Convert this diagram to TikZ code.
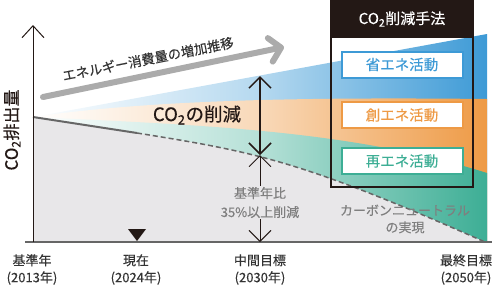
\documentclass[tikz,border=0pt]{standalone}
\usepackage{fontspec}
\setmainfont{Noto Sans CJK JP}[FakeBold=0.3]
\usetikzlibrary{arrows.meta}

\definecolor{bandblue}{HTML}{3D9AD6}
\definecolor{bandorange}{HTML}{EE9A45}
\definecolor{bandteal}{HTML}{3DAE95}
\definecolor{areagray}{HTML}{E8E7E9}
\definecolor{inkblack}{HTML}{231815}
\definecolor{txtgray}{HTML}{7F7F7F}
\definecolor{txtdark}{HTML}{333333}
\definecolor{linegray}{HTML}{666666}
\definecolor{arrowgray}{HTML}{ABABAB}

\newcommand{\COtwo}{CO\textsubscript{2}}
\newcommand{\px}[1]{\fontsize{#1}{#1}\selectfont}

\tikzset{
  band/.style={left color=white, right color=#1, middle color=#1!38},
  method/.style={draw=#1, line width=2pt, fill=white, text=#1,
    minimum width=121pt, minimum height=26pt, inner sep=0pt, font=\px{14.5}},
  ticklabel/.style={text=txtdark, align=center, font=\fontsize{13}{17}\selectfont},
  mybarb/.tip={Straight Barb[length=11pt, width=22pt]},
}

\begin{document}
\begin{tikzpicture}[x=1pt, y=-1pt]

    \useasboundingbox (0,0) rectangle (500,293);

    \coordinate (O)    at (33, 242);   % origin
    \coordinate (Ytop) at (33, 25);
    \coordinate (Xl)   at (25, 242);
    \coordinate (Xr)   at (492, 242);
    \coordinate (S)    at (33, 117);   % base year
    \coordinate (N)    at (137, 133);  % now
    \coordinate (M)    at (260, 155);  % 2030 on curve
    \coordinate (Mtop) at (260, 76);
    \coordinate (Mbot) at (260, 242);
    \coordinate (E)    at (485, 242);  % 2050

    % 1. bands of reduction (fading from the left)
    \shade[band=bandblue]   (S) -- (487,34) -- (487,242) -- (O) -- cycle;
    \shade[band=bandorange] (S) .. controls (150,100) and (300,97) .. (487,99)
        -- (487,242) -- (O) -- cycle;
    \shade[band=bandteal]   (S) .. controls (200,125) and (350,130) .. (487,173)
        -- (487,242) -- (O) -- cycle;

    % 2. emission area
    \fill[areagray] (S) -- (N) .. controls (255,152) and (300,160) .. (E) -- (O) -- cycle;
    \draw[linegray, line width=2pt] (S) -- (N);
    \draw[linegray, line width=1.5pt, dash pattern=on 5pt off 3pt]
        (N) .. controls (255,152) and (300,160) .. (E);

    % 3. axes
    \draw[linegray, line width=1.5pt] (Xl) -- (Xr);
    \draw[inkblack, line width=1pt, -{Straight Barb[length=12pt, width=22pt]}] (O) -- (Ytop);
    \node[rotate=90, text=inkblack, font=\px{17}] (ylab) at (12,130) {\COtwo 排出量};

    % 4. energy consumption arrow
    \coordinate (Ga) at (43, 97);
    \coordinate (Gb) at (284, 47);
    \draw[arrowgray, line width=6pt, line cap=round,
        -{Straight Barb[length=11pt, width=24pt, round]}] (Ga) -- (Gb);
    \node[rotate=11.2, text=txtdark, font=\px{13.4}] (glab) at (148,59)
        {エネルギー消費量の増加推移};

    % 5. reduction arrows
    \node[text=inkblack, font=\px{18.5}] (red) at (197,115) {\COtwo の削減};
    \draw[inkblack, line width=1.5pt, mybarb-mybarb] (Mtop) -- (M);
    \draw[inkblack, line width=0.9pt, mybarb-mybarb] (M) -- (Mbot);
    \node[fill=areagray, text=txtgray, align=center, inner sep=1pt,
        font=\fontsize{13}{19}\selectfont] (pct) at (260,202.5)
        {基準年比\\35\%以上削減};
    \node[text=txtgray, align=center, font=\fontsize{13}{17}\selectfont] (cn)
        at (405,219) {カーボンニュートラル\\の実現};

    % 6. methods box
    \fill[inkblack] (331,1) rectangle (473,38);
    \draw[inkblack, line width=2.2pt] (331,1) rectangle (473,187);
    \node[text=white, font=\px{15}] (head) at (402,19) {\COtwo 削減手法};
    \node[method=bandblue]   (save)  at (402,64.5) {省エネ活動};
    \node[method=bandorange] (make)  at (402,115)  {創エネ活動};
    \node[method=bandteal]   (renew) at (402,161)  {再エネ活動};

    % 7. time labels
    \fill[inkblack] (128,229) -- (146,229) -- (137,241) -- cycle;
    \node[ticklabel] (t13) at (32,269.5)  {基準年\\(2013年)};
    \node[ticklabel] (t24) at (136,269.5) {現在\\(2024年)};
    \node[ticklabel] (t30) at (260,269.5) {中間目標\\(2030年)};
    \node[ticklabel] (t50) at (466,269.5) {最終目標\\(2050年)};

\end{tikzpicture}
\end{document}
